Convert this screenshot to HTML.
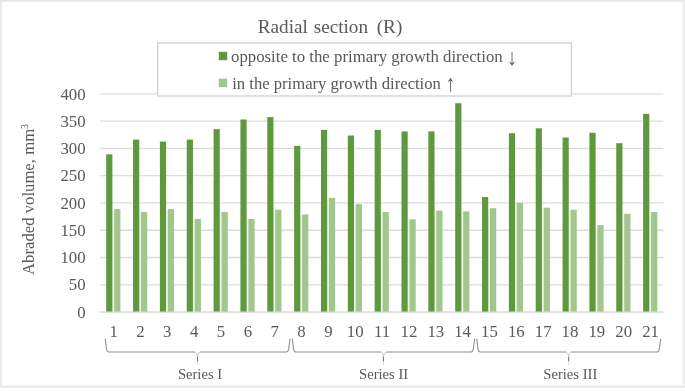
<!DOCTYPE html>
<html><head><meta charset="utf-8"><title>Radial section (R)</title>
<style>
html,body{margin:0;padding:0;background:#fff;}
svg{display:block;font-family:"Liberation Serif",serif;}
</style></head><body>
<svg width="685" height="392" viewBox="0 0 685 392">
<rect x="0" y="0" width="685" height="392" fill="#fff"/>
<rect x="0" y="0" width="684.6" height="1.8" fill="#e7e7e7"/>
<rect x="0" y="385.6" width="684.4" height="2" fill="#e7e7e7"/>
<rect x="0" y="0" width="2.1" height="387.6" fill="#ebebeb"/>
<rect x="682.9" y="0" width="1.7" height="387.6" fill="#eaeaea"/>

<line x1="99.9" x2="663.3" y1="312.05" y2="312.05" stroke="#dcdcdc" stroke-width="1.3"/>
<line x1="99.9" x2="663.3" y1="284.78" y2="284.78" stroke="#dcdcdc" stroke-width="1.3"/>
<line x1="99.9" x2="663.3" y1="257.51" y2="257.51" stroke="#dcdcdc" stroke-width="1.3"/>
<line x1="99.9" x2="663.3" y1="230.24" y2="230.24" stroke="#dcdcdc" stroke-width="1.3"/>
<line x1="99.9" x2="663.3" y1="202.97" y2="202.97" stroke="#dcdcdc" stroke-width="1.3"/>
<line x1="99.9" x2="663.3" y1="175.70" y2="175.70" stroke="#dcdcdc" stroke-width="1.3"/>
<line x1="99.9" x2="663.3" y1="148.43" y2="148.43" stroke="#dcdcdc" stroke-width="1.3"/>
<line x1="99.9" x2="663.3" y1="121.16" y2="121.16" stroke="#dcdcdc" stroke-width="1.3"/>
<line x1="99.9" x2="663.3" y1="93.89" y2="93.89" stroke="#dcdcdc" stroke-width="1.3"/>
<rect x="112.20" y="210.1" width="2.2" height="101.4" fill="#ecf5e6"/>
<rect x="106.20" y="154.3" width="6.2" height="157.8" fill="#5f993e"/>
<rect x="114.20" y="209.1" width="6.2" height="103.0" fill="#a1c68e"/>
<rect x="139.05" y="213.0" width="2.2" height="98.5" fill="#ecf5e6"/>
<rect x="133.05" y="139.6" width="6.2" height="172.5" fill="#5f993e"/>
<rect x="141.05" y="212.0" width="6.2" height="100.1" fill="#a1c68e"/>
<rect x="165.89" y="210.1" width="2.2" height="101.4" fill="#ecf5e6"/>
<rect x="159.89" y="141.6" width="6.2" height="170.5" fill="#5f993e"/>
<rect x="167.89" y="209.1" width="6.2" height="103.0" fill="#a1c68e"/>
<rect x="192.74" y="219.9" width="2.2" height="91.6" fill="#ecf5e6"/>
<rect x="186.74" y="139.6" width="6.2" height="172.5" fill="#5f993e"/>
<rect x="194.74" y="218.9" width="6.2" height="93.2" fill="#a1c68e"/>
<rect x="219.58" y="213.0" width="2.2" height="98.5" fill="#ecf5e6"/>
<rect x="213.58" y="129.1" width="6.2" height="183.0" fill="#5f993e"/>
<rect x="221.58" y="212.0" width="6.2" height="100.1" fill="#a1c68e"/>
<rect x="246.43" y="219.9" width="2.2" height="91.6" fill="#ecf5e6"/>
<rect x="240.43" y="119.5" width="6.2" height="192.6" fill="#5f993e"/>
<rect x="248.43" y="218.9" width="6.2" height="93.2" fill="#a1c68e"/>
<rect x="273.27" y="210.7" width="2.2" height="100.8" fill="#ecf5e6"/>
<rect x="267.27" y="117.1" width="6.2" height="195.0" fill="#5f993e"/>
<rect x="275.27" y="209.7" width="6.2" height="102.4" fill="#a1c68e"/>
<rect x="300.12" y="215.4" width="2.2" height="96.1" fill="#ecf5e6"/>
<rect x="294.12" y="145.9" width="6.2" height="166.2" fill="#5f993e"/>
<rect x="302.12" y="214.4" width="6.2" height="97.7" fill="#a1c68e"/>
<rect x="326.96" y="198.9" width="2.2" height="112.6" fill="#ecf5e6"/>
<rect x="320.96" y="129.9" width="6.2" height="182.2" fill="#5f993e"/>
<rect x="328.96" y="197.9" width="6.2" height="114.2" fill="#a1c68e"/>
<rect x="353.81" y="205.2" width="2.2" height="106.3" fill="#ecf5e6"/>
<rect x="347.81" y="135.5" width="6.2" height="176.6" fill="#5f993e"/>
<rect x="355.81" y="204.2" width="6.2" height="107.9" fill="#a1c68e"/>
<rect x="380.65" y="213.0" width="2.2" height="98.5" fill="#ecf5e6"/>
<rect x="374.65" y="129.9" width="6.2" height="182.2" fill="#5f993e"/>
<rect x="382.65" y="212.0" width="6.2" height="100.1" fill="#a1c68e"/>
<rect x="407.49" y="220.3" width="2.2" height="91.2" fill="#ecf5e6"/>
<rect x="401.49" y="131.4" width="6.2" height="180.7" fill="#5f993e"/>
<rect x="409.49" y="219.3" width="6.2" height="92.8" fill="#a1c68e"/>
<rect x="434.34" y="211.6" width="2.2" height="99.9" fill="#ecf5e6"/>
<rect x="428.34" y="131.4" width="6.2" height="180.7" fill="#5f993e"/>
<rect x="436.34" y="210.6" width="6.2" height="101.5" fill="#a1c68e"/>
<rect x="461.19" y="212.4" width="2.2" height="99.1" fill="#ecf5e6"/>
<rect x="455.19" y="103.2" width="6.2" height="208.9" fill="#5f993e"/>
<rect x="463.19" y="211.4" width="6.2" height="100.7" fill="#a1c68e"/>
<rect x="488.03" y="209.2" width="2.2" height="102.3" fill="#ecf5e6"/>
<rect x="482.03" y="197.0" width="6.2" height="115.1" fill="#5f993e"/>
<rect x="490.03" y="208.2" width="6.2" height="103.9" fill="#a1c68e"/>
<rect x="514.87" y="203.8" width="2.2" height="107.7" fill="#ecf5e6"/>
<rect x="508.87" y="133.2" width="6.2" height="178.9" fill="#5f993e"/>
<rect x="516.87" y="202.8" width="6.2" height="109.2" fill="#a1c68e"/>
<rect x="541.72" y="208.7" width="2.2" height="102.8" fill="#ecf5e6"/>
<rect x="535.72" y="128.3" width="6.2" height="183.8" fill="#5f993e"/>
<rect x="543.72" y="207.7" width="6.2" height="104.4" fill="#a1c68e"/>
<rect x="568.56" y="210.7" width="2.2" height="100.8" fill="#ecf5e6"/>
<rect x="562.56" y="137.5" width="6.2" height="174.6" fill="#5f993e"/>
<rect x="570.56" y="209.7" width="6.2" height="102.4" fill="#a1c68e"/>
<rect x="595.41" y="226.1" width="2.2" height="85.4" fill="#ecf5e6"/>
<rect x="589.41" y="132.8" width="6.2" height="179.2" fill="#5f993e"/>
<rect x="597.41" y="225.1" width="6.2" height="87.0" fill="#a1c68e"/>
<rect x="622.25" y="214.8" width="2.2" height="96.7" fill="#ecf5e6"/>
<rect x="616.25" y="143.2" width="6.2" height="168.9" fill="#5f993e"/>
<rect x="624.25" y="213.8" width="6.2" height="98.2" fill="#a1c68e"/>
<rect x="649.10" y="213.0" width="2.2" height="98.5" fill="#ecf5e6"/>
<rect x="643.10" y="113.9" width="6.2" height="198.2" fill="#5f993e"/>
<rect x="651.10" y="212.0" width="6.2" height="100.1" fill="#a1c68e"/>
<line x1="99.9" x2="663.3" y1="312.05" y2="312.05" stroke="#dcdcdc" stroke-width="1.3"/>
<text transform="translate(85.6,317.75) scale(1,1.035)" font-size="16.8" fill="#595959" text-anchor="end">0</text>
<text transform="translate(85.6,290.48) scale(1,1.035)" font-size="16.8" fill="#595959" text-anchor="end">50</text>
<text transform="translate(85.6,263.21) scale(1,1.035)" font-size="16.8" fill="#595959" text-anchor="end">100</text>
<text transform="translate(85.6,235.94) scale(1,1.035)" font-size="16.8" fill="#595959" text-anchor="end">150</text>
<text transform="translate(85.6,208.67) scale(1,1.035)" font-size="16.8" fill="#595959" text-anchor="end">200</text>
<text transform="translate(85.6,181.40) scale(1,1.035)" font-size="16.8" fill="#595959" text-anchor="end">250</text>
<text transform="translate(85.6,154.13) scale(1,1.035)" font-size="16.8" fill="#595959" text-anchor="end">300</text>
<text transform="translate(85.6,126.86) scale(1,1.035)" font-size="16.8" fill="#595959" text-anchor="end">350</text>
<text transform="translate(85.6,99.59) scale(1,1.035)" font-size="16.8" fill="#595959" text-anchor="end">400</text>
<text transform="translate(113.62,337.4) scale(1,1.035)" font-size="16.8" fill="#595959" text-anchor="middle">1</text>
<text transform="translate(140.47,337.4) scale(1,1.035)" font-size="16.8" fill="#595959" text-anchor="middle">2</text>
<text transform="translate(167.31,337.4) scale(1,1.035)" font-size="16.8" fill="#595959" text-anchor="middle">3</text>
<text transform="translate(194.16,337.4) scale(1,1.035)" font-size="16.8" fill="#595959" text-anchor="middle">4</text>
<text transform="translate(221.00,337.4) scale(1,1.035)" font-size="16.8" fill="#595959" text-anchor="middle">5</text>
<text transform="translate(247.85,337.4) scale(1,1.035)" font-size="16.8" fill="#595959" text-anchor="middle">6</text>
<text transform="translate(274.69,337.4) scale(1,1.035)" font-size="16.8" fill="#595959" text-anchor="middle">7</text>
<text transform="translate(301.54,337.4) scale(1,1.035)" font-size="16.8" fill="#595959" text-anchor="middle">8</text>
<text transform="translate(328.38,337.4) scale(1,1.035)" font-size="16.8" fill="#595959" text-anchor="middle">9</text>
<text transform="translate(355.23,337.4) scale(1,1.035)" font-size="16.8" fill="#595959" text-anchor="middle">10</text>
<text transform="translate(382.07,337.4) scale(1,1.035)" font-size="16.8" fill="#595959" text-anchor="middle">11</text>
<text transform="translate(408.92,337.4) scale(1,1.035)" font-size="16.8" fill="#595959" text-anchor="middle">12</text>
<text transform="translate(435.76,337.4) scale(1,1.035)" font-size="16.8" fill="#595959" text-anchor="middle">13</text>
<text transform="translate(462.61,337.4) scale(1,1.035)" font-size="16.8" fill="#595959" text-anchor="middle">14</text>
<text transform="translate(489.45,337.4) scale(1,1.035)" font-size="16.8" fill="#595959" text-anchor="middle">15</text>
<text transform="translate(516.30,337.4) scale(1,1.035)" font-size="16.8" fill="#595959" text-anchor="middle">16</text>
<text transform="translate(543.14,337.4) scale(1,1.035)" font-size="16.8" fill="#595959" text-anchor="middle">17</text>
<text transform="translate(569.99,337.4) scale(1,1.035)" font-size="16.8" fill="#595959" text-anchor="middle">18</text>
<text transform="translate(596.83,337.4) scale(1,1.035)" font-size="16.8" fill="#595959" text-anchor="middle">19</text>
<text transform="translate(623.68,337.4) scale(1,1.035)" font-size="16.8" fill="#595959" text-anchor="middle">20</text>
<text transform="translate(650.52,337.4) scale(1,1.035)" font-size="16.8" fill="#595959" text-anchor="middle">21</text>
<text y="32.7" font-size="19.2" fill="#595959"><tspan x="257.8">Radial</tspan> <tspan x="313.7">section</tspan> <tspan x="376.7">(R)</tspan></text>
<rect x="157.7" y="43.0" width="413.7" height="53.0" fill="#fff" stroke="#d3d3d3" stroke-width="1.4"/>
<rect x="218.8" y="51.8" width="8.4" height="8.4" fill="#5f993e"/>
<rect x="218.8" y="78.7" width="8.4" height="8.4" fill="#a1c68e"/>
<text x="231.0" y="62.1" font-size="16.79" fill="#595959">opposite to the primary growth direction</text>
<text x="232.2" y="88.5" font-size="16.64" fill="#595959">in the primary growth direction</text>
<text transform="translate(512.3,65.0) scale(1.18,1.385)" font-size="16.75" fill="#595959" text-anchor="middle">↓</text>
<text transform="translate(450.7,91.4) scale(1.18,1.385)" font-size="16.75" fill="#595959" text-anchor="middle">↑</text>
<text transform="translate(33.9,275.0) rotate(-90)" font-size="16.72" fill="#595959">Abraded volume, mm<tspan font-size="10" dy="-6">3</tspan></text>
<path d="M105.2 338.8 L106.5 348.8 Q106.9 352.0 109.0 352.0 L195.0 352.0" fill="none" stroke="#8a8a8a" stroke-width="1.05"/><path d="M290.0 338.8 L288.7 348.8 Q288.3 352.0 286.2 352.0 L200.2 352.0" fill="none" stroke="#8a8a8a" stroke-width="1.05"/><path d="M195.0 352.0 Q197.1 352.3 197.6 357.0 Q198.1 352.3 200.2 352.0" fill="none" stroke="#b4b4b4" stroke-width="0.7"/><line x1="197.6" x2="197.6" y1="357.0" y2="361.6" stroke="#6a6a6a" stroke-width="1"/><line x1="197.6" x2="197.6" y1="361.6" y2="365.0" stroke="#d2d2d2" stroke-width="0.8"/>
<path d="M292.2 338.8 L293.5 348.8 Q293.9 352.0 296.0 352.0 L380.8 352.0" fill="none" stroke="#8a8a8a" stroke-width="1.05"/><path d="M474.7 338.8 L473.4 348.8 Q473.0 352.0 470.9 352.0 L386.1 352.0" fill="none" stroke="#8a8a8a" stroke-width="1.05"/><path d="M380.8 352.0 Q382.9 352.3 383.4 357.0 Q383.9 352.3 386.1 352.0" fill="none" stroke="#b4b4b4" stroke-width="0.7"/><line x1="383.4" x2="383.4" y1="357.0" y2="361.6" stroke="#6a6a6a" stroke-width="1"/><line x1="383.4" x2="383.4" y1="361.6" y2="365.0" stroke="#d2d2d2" stroke-width="0.8"/>
<path d="M476.7 338.8 L478.0 348.8 Q478.4 352.0 480.5 352.0 L566.1 352.0" fill="none" stroke="#8a8a8a" stroke-width="1.05"/><path d="M660.7 338.8 L659.4 348.8 Q659.0 352.0 656.9 352.0 L571.3 352.0" fill="none" stroke="#8a8a8a" stroke-width="1.05"/><path d="M566.1 352.0 Q568.2 352.3 568.7 357.0 Q569.2 352.3 571.3 352.0" fill="none" stroke="#b4b4b4" stroke-width="0.7"/><line x1="568.7" x2="568.7" y1="357.0" y2="361.6" stroke="#6a6a6a" stroke-width="1"/><line x1="568.7" x2="568.7" y1="361.6" y2="365.0" stroke="#d2d2d2" stroke-width="0.8"/>
<text x="200.0" y="379.2" font-size="14.6" fill="#595959" text-anchor="middle">Series I</text>
<text x="383.6" y="379.2" font-size="14.6" fill="#595959" text-anchor="middle">Series II</text>
<text x="570.3" y="379.2" font-size="14.6" fill="#595959" text-anchor="middle">Series III</text>
</svg></body></html>
